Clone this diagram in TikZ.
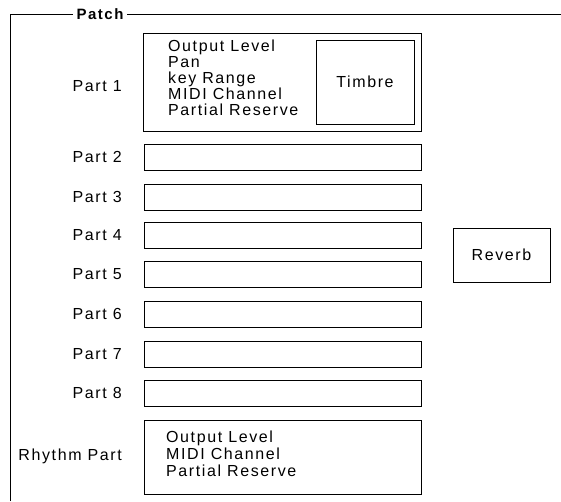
\documentclass[tikz,border=0pt]{standalone}
\usepackage{fontspec}
\setmainfont{Liberation Sans}
\newfontfamily\lblfont[LetterSpace=10]{Liberation Sans}
\begin{document}
\begin{tikzpicture}[x=1pt,y=-1pt,
  txt/.style={inner sep=0pt, font=\lblfont\fontsize{16}{16}\selectfont},
  lbl/.style={txt, anchor=east},
  itm/.style={txt, anchor=base west},
  box/.style={draw, line width=0.9pt, inner sep=0pt},
  partbox/.style={box, minimum width=277pt, minimum height=26pt}]
\useasboundingbox (0,0) rectangle (561,501);
% outer frame
\coordinate (fbl) at (10,501);
\coordinate (ftl) at (10,14);
\coordinate (ftr) at (561,14);
\draw[line width=1pt] (fbl) -- (ftl) -- (ftr);
\node[txt, font=\lblfont\bfseries\fontsize{15}{16}\selectfont, fill=white, inner xsep=4pt, inner ysep=2pt] (patch) at (100,14) {Patch};
% Part 1
\node[box, minimum width=278pt, minimum height=98pt] (p1) at (282.5,82) {};
\node[box, minimum width=98pt, minimum height=84pt, font=\lblfont\fontsize{16}{16}\selectfont] (timbre) at (365,82) {Timbre};
\node[lbl] (l1) at (122,86) {Part 1};
\node[itm] (p1a) at (168,51) {Output Level};
\node[itm] (p1b) at (168,67) {Pan};
\node[itm] (p1c) at (168,83) {key Range};
\node[itm] (p1d) at (168,99) {MIDI Channel};
\node[itm] (p1e) at (168,115) {Partial Reserve};
% Parts 2-8
\foreach \n/\y in {2/157,3/197,4/235,5/274,6/314,7/354,8/393}{
  \node[partbox] (p\n) at (282.5,\y) {};
  \node[lbl] (l\n) at (122,\y) {Part \n};
}
% Rhythm part
\node[box, minimum width=277pt, minimum height=74pt] (rh) at (282.5,457) {};
\node[lbl] (lr) at (122,456) {Rhythm Part};
\node[itm] (rha) at (166,442) {Output Level};
\node[itm] (rhb) at (166,459) {MIDI Channel};
\node[itm] (rhc) at (166,476) {Partial Reserve};
% Reverb
\node[box, minimum width=97pt, minimum height=54pt, font=\lblfont\fontsize{16}{16}\selectfont] (rev) at (501.5,255) {Reverb};
\end{tikzpicture}
\end{document}
